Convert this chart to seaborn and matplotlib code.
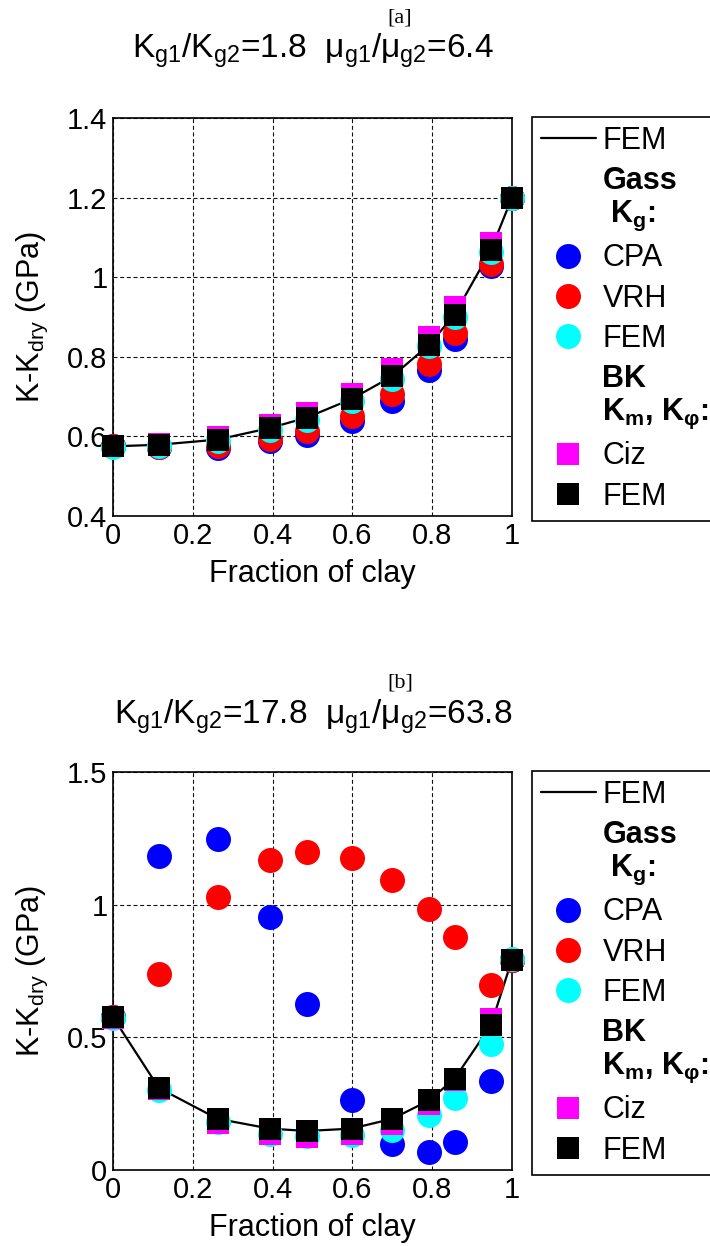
import matplotlib
matplotlib.use("Agg")
import matplotlib.pyplot as plt
from matplotlib.lines import Line2D
import seaborn as sns
import pandas as pd

# ---------------- data ----------------
clay_fraction = [0, 0.115, 0.262, 0.393, 0.485, 0.598, 0.70, 0.792, 0.856, 0.947, 1.0]

# panel [a]
a_fem_line = [0.575, 0.579, 0.592, 0.621, 0.647, 0.694, 0.751, 0.830, 0.906, 1.068, 1.2]
a_gass_cpa = [0.575, 0.573, 0.572, 0.589, 0.604, 0.638, 0.690, 0.766, 0.845, 1.028, 1.2]
a_gass_vrh = [0.575, 0.574, 0.575, 0.593, 0.613, 0.651, 0.706, 0.783, 0.860, 1.034, 1.2]
a_gass_fem = [0.573, 0.575, 0.588, 0.617, 0.642, 0.690, 0.745, 0.826, 0.900, 1.064, 1.2]
a_bk_ciz = [0.577, 0.582, 0.599, 0.628, 0.660, 0.706, 0.770, 0.851, 0.924, 1.087, 1.2]
a_bk_fem = [0.575, 0.579, 0.592, 0.621, 0.647, 0.694, 0.751, 0.830, 0.906, 1.068, 1.2]

# panel [b]
b_fem_line = [0.576, 0.309, 0.193, 0.156, 0.147, 0.156, 0.193, 0.262, 0.344, 0.545, 0.793]
b_gass_cpa = [0.576, 1.184, 1.247, 0.952, 0.624, 0.265, 0.099, 0.068, 0.105, 0.337, 0.793]
b_gass_vrh = [0.576, 0.739, 1.030, 1.168, 1.200, 1.174, 1.094, 0.984, 0.877, 0.698, 0.793]
b_gass_fem = [0.572, 0.300, 0.180, 0.137, 0.130, 0.133, 0.152, 0.206, 0.272, 0.476, 0.795]
b_bk_ciz = [0.574, 0.305, 0.178, 0.135, 0.125, 0.135, 0.175, 0.250, 0.340, 0.570, 0.793]
b_bk_fem = [0.576, 0.309, 0.193, 0.156, 0.147, 0.156, 0.193, 0.262, 0.344, 0.545, 0.793]

x_ticks = [0, 0.2, 0.4, 0.6, 0.8, 1.0]
x_tick_labels = ["0", "0.2", "0.4", "0.6", "0.8", "1"]
a_y_ticks = [0.4, 0.6, 0.8, 1.0, 1.2, 1.4]
a_y_tick_labels = ["0.4", "0.6", "0.8", "1", "1.2", "1.4"]
b_y_ticks = [0, 0.5, 1.0, 1.5]
b_y_tick_labels = ["0", "0.5", "1", "1.5"]

a_title = "K$_{g1}$/K$_{g2}$=1.8  μ$_{g1}$/μ$_{g2}$=6.4"
b_title = "K$_{g1}$/K$_{g2}$=17.8  μ$_{g1}$/μ$_{g2}$=63.8"
panel_labels = ["[a]", "[b]"]
x_label = "Fraction of clay"
y_label = "K-K$_{dry}$ (GPa)"

legend_labels = ["FEM",
                 "Gass\n K$_\\mathbf{g}$:",
                 "CPA", "VRH", "FEM",
                 "BK\nK$_\\mathbf{m}$, K$_\\mathbf{φ}$:",
                 "Ciz", "FEM"]

# ---------------- style ----------------
sns.set_style("white")
plt.rcParams["font.family"] = ["Liberation Sans", "DejaVu Sans"]
plt.rcParams["mathtext.fontset"] = "custom"
plt.rcParams["mathtext.rm"] = "Liberation Sans"
plt.rcParams["mathtext.bf"] = "Liberation Sans:bold"
plt.rcParams["mathtext.it"] = "Liberation Sans:italic"
plt.rcParams["mathtext.default"] = "regular"
plt.rcParams["text.color"] = "black"
plt.rcParams["axes.labelcolor"] = "black"
plt.rcParams["xtick.color"] = "black"
plt.rcParams["ytick.color"] = "black"

FS_TICK = 21
FS_LABEL = 22
FS_LEG = 22
FS_TITLE = 24
W, H = 710, 1246
fig = plt.figure(figsize=(W / 100, H / 100), dpi=100)

CIRCLE_S = 18 ** 2
SQUARE_S = 15.6 ** 2


def draw_panel(ax, line, cpa, vrh, gfem, ciz, bkfem, yticks, yticklabels, ylim):
    df = pd.DataFrame({"x": clay_fraction, "line": line, "cpa": cpa, "vrh": vrh,
                       "gfem": gfem, "ciz": ciz, "bkfem": bkfem})
    sns.lineplot(data=df, x="x", y="line", ax=ax, color="black", linewidth=1.6,
                 sort=False, estimator=None, legend=False, zorder=2, clip_on=False)
    for col, colr, mk, s, z in [("cpa", "#0000ff", "o", CIRCLE_S, 3),
                                ("vrh", "#ff0000", "o", CIRCLE_S, 4),
                                ("gfem", "#00ffff", "o", CIRCLE_S, 5),
                                ("ciz", "#ff00ff", "s", SQUARE_S, 6),
                                ("bkfem", "#000000", "s", SQUARE_S, 7)]:
        sns.scatterplot(data=df, x="x", y=col, ax=ax, color=colr, marker=mk, s=s,
                        linewidth=0, legend=False, zorder=z, clip_on=False)
    ax.set_xlim(0, 1)
    ax.set_ylim(*ylim)
    ax.set_xticks(x_ticks)
    ax.set_xticklabels(x_tick_labels)
    ax.set_yticks(yticks)
    ax.set_yticklabels(yticklabels)
    ax.tick_params(axis="both", length=0, labelsize=FS_TICK, pad=4, colors="black")
    ax.grid(True, color="#111111", linestyle=(0, (3.6, 2.4)), linewidth=0.8)
    ax.set_axisbelow(True)
    for sp in ax.spines.values():
        sp.set_color("black")
        sp.set_linewidth(1.2)
        sp.set_zorder(1)
    ax.set_xlabel(x_label, fontsize=FS_LABEL, labelpad=7, color="black")
    ax.set_ylabel(y_label, fontsize=FS_LABEL, labelpad=12, color="black")

    handles = [Line2D([], [], color="black", linewidth=1.6),
               Line2D([], [], linestyle="none"),
               Line2D([], [], linestyle="none", marker="o", markersize=18, markeredgewidth=0, color="#0000ff"),
               Line2D([], [], linestyle="none", marker="o", markersize=18, markeredgewidth=0, color="#ff0000"),
               Line2D([], [], linestyle="none", marker="o", markersize=18, markeredgewidth=0, color="#00ffff"),
               Line2D([], [], linestyle="none"),
               Line2D([], [], linestyle="none", marker="s", markersize=15.6, markeredgewidth=0, color="#ff00ff"),
               Line2D([], [], linestyle="none", marker="s", markersize=15.6, markeredgewidth=0, color="#000000")]
    leg = ax.legend(handles, legend_labels, loc="upper left", bbox_to_anchor=(1.049, 1.003),
                    borderaxespad=0, fontsize=FS_LEG, frameon=True, fancybox=False,
                    framealpha=1, edgecolor="black", handlelength=1.8, handletextpad=0.22,
                    borderpad=0.3, labelspacing=0.34, handleheight=0.7)
    leg.get_frame().set_linewidth(1.2)
    for t in leg.get_texts():
        t.set_color("black")
    for i in (1, 5):
        t = leg.get_texts()[i]
        t.set_fontweight("bold")
        t.set_linespacing(1.1)
    return leg


# axes positions in pixels: left 113, width 399; panel a top 118, panel b top 772; height 398
ax_a = fig.add_axes([113 / W, 1 - 516 / H, 399 / W, 398 / H])
ax_b = fig.add_axes([113 / W, 1 - 1170 / H, 399 / W, 398 / H])

draw_panel(ax_a, a_fem_line, a_gass_cpa, a_gass_vrh, a_gass_fem, a_bk_ciz, a_bk_fem,
           a_y_ticks, a_y_tick_labels, (0.4, 1.4))
draw_panel(ax_b, b_fem_line, b_gass_cpa, b_gass_vrh, b_gass_fem, b_bk_ciz, b_bk_fem,
           b_y_ticks, b_y_tick_labels, (0, 1.5))

# titles
fig.text(313 / W, 1 - 51 / H, a_title, fontsize=FS_TITLE, ha="center", va="center", color="black")
fig.text(313 / W, 1 - 717 / H, b_title, fontsize=FS_TITLE, ha="center", va="center", color="black")
fig.text(400 / W, 1 - 18 / H, panel_labels[0], fontsize=16, ha="center", va="center",
         family=["Liberation Serif", "DejaVu Serif"], color="black")
fig.text(400 / W, 1 - 683 / H, panel_labels[1], fontsize=16, ha="center", va="center",
         family=["Liberation Serif", "DejaVu Serif"], color="black")

fig.savefig("out.png", dpi=100)
